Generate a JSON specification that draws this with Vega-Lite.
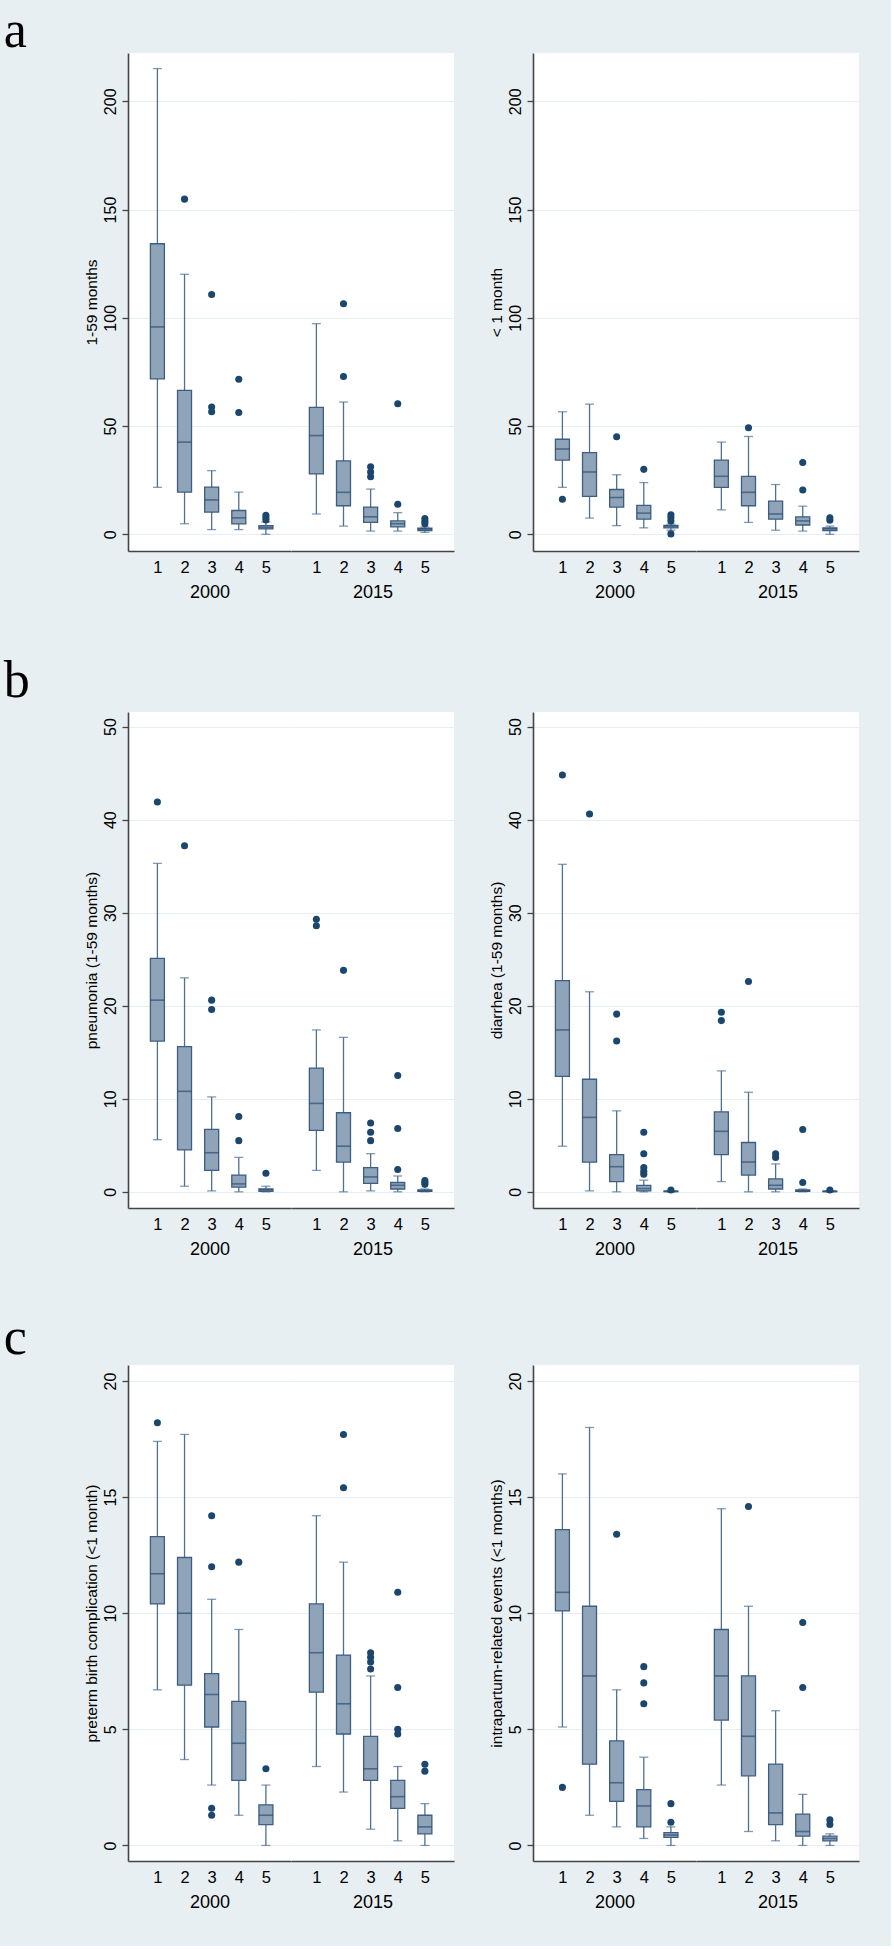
{
"$schema": "https://vega.github.io/schema/vega-lite/v6.json",
"background": "#e8eff2",
"padding": {"left": 3, "top": 5, "right": 32, "bottom": 34},
"datasets": {"d": [
{"p":"aL","yr":2000,"q":1,"lo":21.7,"q1":71.8,"md":95.8,"q3":134.2,"hi":215.1},
{"p":"aL","yr":2000,"q":2,"lo":4.9,"q1":19.5,"md":42.6,"q3":66.5,"hi":120.1},
{"p":"aL","yr":2000,"q":3,"lo":2.2,"q1":10.3,"md":15.9,"q3":21.8,"hi":29.4},
{"p":"aL","yr":2000,"q":4,"lo":2.2,"q1":4.8,"md":7.6,"q3":11.0,"hi":19.5},
{"p":"aL","yr":2000,"q":5,"lo":0.0,"q1":2.5,"md":3.2,"q3":4.0,"hi":5.7},
{"p":"aL","yr":2015,"q":1,"lo":9.4,"q1":27.9,"md":45.6,"q3":58.6,"hi":97.3},
{"p":"aL","yr":2015,"q":2,"lo":3.8,"q1":13.2,"md":19.4,"q3":33.9,"hi":61.1},
{"p":"aL","yr":2015,"q":3,"lo":1.5,"q1":5.5,"md":8.1,"q3":12.6,"hi":20.9},
{"p":"aL","yr":2015,"q":4,"lo":1.5,"q1":3.4,"md":4.9,"q3":6.2,"hi":10.0},
{"p":"aL","yr":2015,"q":5,"lo":0.9,"q1":1.7,"md":2.3,"q3":2.8,"hi":3.4},
{"p":"aL","yr":2000,"q":2,"o":154.8},
{"p":"aL","yr":2000,"q":3,"o":110.8},{"p":"aL","yr":2000,"q":3,"o":58.8},{"p":"aL","yr":2000,"q":3,"o":56.6},
{"p":"aL","yr":2000,"q":4,"o":71.6},{"p":"aL","yr":2000,"q":4,"o":56.3},
{"p":"aL","yr":2000,"q":5,"o":6.6},{"p":"aL","yr":2000,"q":5,"o":7.6},{"p":"aL","yr":2000,"q":5,"o":8.8},
{"p":"aL","yr":2015,"q":2,"o":72.9},{"p":"aL","yr":2015,"q":2,"o":106.5},
{"p":"aL","yr":2015,"q":3,"o":26.6},{"p":"aL","yr":2015,"q":3,"o":28.8},{"p":"aL","yr":2015,"q":3,"o":31.2},
{"p":"aL","yr":2015,"q":4,"o":13.9},{"p":"aL","yr":2015,"q":4,"o":60.3},
{"p":"aL","yr":2015,"q":5,"o":4.9},{"p":"aL","yr":2015,"q":5,"o":6.0},{"p":"aL","yr":2015,"q":5,"o":7.3},

{"p":"aR","yr":2000,"q":1,"lo":21.7,"q1":34.3,"md":39.4,"q3":43.9,"hi":56.6},
{"p":"aR","yr":2000,"q":2,"lo":7.5,"q1":17.5,"md":28.8,"q3":37.7,"hi":60.1},
{"p":"aR","yr":2000,"q":3,"lo":4.0,"q1":12.6,"md":17.0,"q3":20.7,"hi":27.5},
{"p":"aR","yr":2000,"q":4,"lo":3.0,"q1":7.0,"md":9.8,"q3":13.4,"hi":23.9},
{"p":"aR","yr":2000,"q":5,"lo":1.9,"q1":3.0,"md":3.6,"q3":4.1,"hi":4.7},
{"p":"aR","yr":2015,"q":1,"lo":11.3,"q1":21.7,"md":26.8,"q3":34.3,"hi":42.6},
{"p":"aR","yr":2015,"q":2,"lo":5.5,"q1":13.2,"md":19.4,"q3":26.8,"hi":45.2},
{"p":"aR","yr":2015,"q":3,"lo":1.9,"q1":7.0,"md":9.4,"q3":15.3,"hi":23.0},
{"p":"aR","yr":2015,"q":4,"lo":1.5,"q1":4.3,"md":6.2,"q3":8.1,"hi":13.0},
{"p":"aR","yr":2015,"q":5,"lo":0.0,"q1":1.7,"md":2.5,"q3":3.0,"hi":3.8},
{"p":"aR","yr":2000,"q":1,"o":16.2},
{"p":"aR","yr":2000,"q":3,"o":45.1},
{"p":"aR","yr":2000,"q":4,"o":30.0},
{"p":"aR","yr":2000,"q":5,"o":6.2},{"p":"aR","yr":2000,"q":5,"o":7.8},{"p":"aR","yr":2000,"q":5,"o":9.0},{"p":"aR","yr":2000,"q":5,"o":0.2},
{"p":"aR","yr":2015,"q":2,"o":49.2},
{"p":"aR","yr":2015,"q":4,"o":20.5},{"p":"aR","yr":2015,"q":4,"o":33.2},
{"p":"aR","yr":2015,"q":5,"o":6.5},{"p":"aR","yr":2015,"q":5,"o":7.6},

{"p":"bL","yr":2000,"q":1,"lo":5.6,"q1":16.2,"md":20.6,"q3":25.1,"hi":35.3},
{"p":"bL","yr":2000,"q":2,"lo":0.6,"q1":4.5,"md":10.8,"q3":15.6,"hi":23.0},
{"p":"bL","yr":2000,"q":3,"lo":0.1,"q1":2.3,"md":4.2,"q3":6.7,"hi":10.2},
{"p":"bL","yr":2000,"q":4,"lo":0.0,"q1":0.5,"md":0.85,"q3":1.8,"hi":3.7},
{"p":"bL","yr":2000,"q":5,"lo":0.0,"q1":0.05,"md":0.2,"q3":0.3,"hi":0.6},
{"p":"bL","yr":2015,"q":1,"lo":2.3,"q1":6.6,"md":9.5,"q3":13.3,"hi":17.4},
{"p":"bL","yr":2015,"q":2,"lo":0.0,"q1":3.2,"md":4.9,"q3":8.5,"hi":16.6},
{"p":"bL","yr":2015,"q":3,"lo":0.1,"q1":0.9,"md":1.6,"q3":2.6,"hi":4.1},
{"p":"bL","yr":2015,"q":4,"lo":0.0,"q1":0.3,"md":0.7,"q3":1.0,"hi":1.7},
{"p":"bL","yr":2015,"q":5,"lo":0.0,"q1":0.05,"md":0.1,"q3":0.2,"hi":0.3},
{"p":"bL","yr":2000,"q":1,"o":41.9},
{"p":"bL","yr":2000,"q":2,"o":37.2},
{"p":"bL","yr":2000,"q":3,"o":19.6},{"p":"bL","yr":2000,"q":3,"o":20.6},
{"p":"bL","yr":2000,"q":4,"o":5.5},{"p":"bL","yr":2000,"q":4,"o":8.1},
{"p":"bL","yr":2000,"q":5,"o":2.0},
{"p":"bL","yr":2015,"q":1,"o":28.6},{"p":"bL","yr":2015,"q":1,"o":29.3},
{"p":"bL","yr":2015,"q":2,"o":23.8},
{"p":"bL","yr":2015,"q":3,"o":5.5},{"p":"bL","yr":2015,"q":3,"o":6.4},{"p":"bL","yr":2015,"q":3,"o":7.4},
{"p":"bL","yr":2015,"q":4,"o":2.4},{"p":"bL","yr":2015,"q":4,"o":6.8},{"p":"bL","yr":2015,"q":4,"o":12.5},
{"p":"bL","yr":2015,"q":5,"o":0.8},{"p":"bL","yr":2015,"q":5,"o":1.0},{"p":"bL","yr":2015,"q":5,"o":1.2},

{"p":"bR","yr":2000,"q":1,"lo":4.9,"q1":12.4,"md":17.4,"q3":22.7,"hi":35.2},
{"p":"bR","yr":2000,"q":2,"lo":0.1,"q1":3.2,"md":8.0,"q3":12.1,"hi":21.5},
{"p":"bR","yr":2000,"q":3,"lo":0.0,"q1":1.1,"md":2.7,"q3":4.0,"hi":8.7},
{"p":"bR","yr":2000,"q":4,"lo":0.0,"q1":0.1,"md":0.35,"q3":0.7,"hi":1.25},
{"p":"bR","yr":2000,"q":5,"lo":0.0,"q1":0.02,"md":0.05,"q3":0.08,"hi":0.12},
{"p":"bR","yr":2015,"q":1,"lo":1.1,"q1":4.0,"md":6.5,"q3":8.6,"hi":13.0},
{"p":"bR","yr":2015,"q":2,"lo":0.0,"q1":1.8,"md":3.2,"q3":5.3,"hi":10.7},
{"p":"bR","yr":2015,"q":3,"lo":0.0,"q1":0.3,"md":0.7,"q3":1.4,"hi":3.0},
{"p":"bR","yr":2015,"q":4,"lo":0.0,"q1":0.05,"md":0.1,"q3":0.2,"hi":0.3},
{"p":"bR","yr":2015,"q":5,"lo":0.0,"q1":0.02,"md":0.05,"q3":0.08,"hi":0.1},
{"p":"bR","yr":2000,"q":1,"o":44.8},
{"p":"bR","yr":2000,"q":2,"o":40.6},
{"p":"bR","yr":2000,"q":3,"o":16.2},{"p":"bR","yr":2000,"q":3,"o":19.1},
{"p":"bR","yr":2000,"q":4,"o":1.9},{"p":"bR","yr":2000,"q":4,"o":2.2},{"p":"bR","yr":2000,"q":4,"o":2.6},{"p":"bR","yr":2000,"q":4,"o":4.1},{"p":"bR","yr":2000,"q":4,"o":6.4},
{"p":"bR","yr":2000,"q":5,"o":0.2},
{"p":"bR","yr":2015,"q":1,"o":18.4},{"p":"bR","yr":2015,"q":1,"o":19.3},
{"p":"bR","yr":2015,"q":2,"o":22.6},
{"p":"bR","yr":2015,"q":3,"o":3.7},{"p":"bR","yr":2015,"q":3,"o":4.1},
{"p":"bR","yr":2015,"q":4,"o":1.0},{"p":"bR","yr":2015,"q":4,"o":6.7},
{"p":"bR","yr":2015,"q":5,"o":0.2},

{"p":"cL","yr":2000,"q":1,"lo":6.7,"q1":10.4,"md":11.7,"q3":13.3,"hi":17.4},
{"p":"cL","yr":2000,"q":2,"lo":3.7,"q1":6.9,"md":10.0,"q3":12.4,"hi":17.7},
{"p":"cL","yr":2000,"q":3,"lo":2.6,"q1":5.1,"md":6.5,"q3":7.4,"hi":10.6},
{"p":"cL","yr":2000,"q":4,"lo":1.3,"q1":2.8,"md":4.4,"q3":6.2,"hi":9.3},
{"p":"cL","yr":2000,"q":5,"lo":0.0,"q1":0.9,"md":1.3,"q3":1.75,"hi":2.6},
{"p":"cL","yr":2015,"q":1,"lo":3.4,"q1":6.6,"md":8.3,"q3":10.4,"hi":14.2},
{"p":"cL","yr":2015,"q":2,"lo":2.3,"q1":4.8,"md":6.1,"q3":8.2,"hi":12.2},
{"p":"cL","yr":2015,"q":3,"lo":0.7,"q1":2.8,"md":3.3,"q3":4.7,"hi":7.3},
{"p":"cL","yr":2015,"q":4,"lo":0.2,"q1":1.6,"md":2.1,"q3":2.8,"hi":3.4},
{"p":"cL","yr":2015,"q":5,"lo":0.0,"q1":0.5,"md":0.8,"q3":1.3,"hi":1.8},
{"p":"cL","yr":2000,"q":1,"o":18.2},
{"p":"cL","yr":2000,"q":3,"o":1.3},{"p":"cL","yr":2000,"q":3,"o":1.6},{"p":"cL","yr":2000,"q":3,"o":12.0},{"p":"cL","yr":2000,"q":3,"o":14.2},
{"p":"cL","yr":2000,"q":4,"o":12.2},
{"p":"cL","yr":2000,"q":5,"o":3.3},
{"p":"cL","yr":2015,"q":2,"o":15.4},{"p":"cL","yr":2015,"q":2,"o":17.7},
{"p":"cL","yr":2015,"q":3,"o":7.6},{"p":"cL","yr":2015,"q":3,"o":7.9},{"p":"cL","yr":2015,"q":3,"o":8.1},{"p":"cL","yr":2015,"q":3,"o":8.3},
{"p":"cL","yr":2015,"q":4,"o":4.8},{"p":"cL","yr":2015,"q":4,"o":5.0},{"p":"cL","yr":2015,"q":4,"o":6.8},{"p":"cL","yr":2015,"q":4,"o":10.9},
{"p":"cL","yr":2015,"q":5,"o":3.2},{"p":"cL","yr":2015,"q":5,"o":3.5},

{"p":"cR","yr":2000,"q":1,"lo":5.1,"q1":10.1,"md":10.9,"q3":13.6,"hi":16.0},
{"p":"cR","yr":2000,"q":2,"lo":1.3,"q1":3.5,"md":7.3,"q3":10.3,"hi":18.0},
{"p":"cR","yr":2000,"q":3,"lo":0.8,"q1":1.9,"md":2.7,"q3":4.5,"hi":6.7},
{"p":"cR","yr":2000,"q":4,"lo":0.3,"q1":0.8,"md":1.7,"q3":2.4,"hi":3.8},
{"p":"cR","yr":2000,"q":5,"lo":0.0,"q1":0.35,"md":0.45,"q3":0.55,"hi":0.8},
{"p":"cR","yr":2015,"q":1,"lo":2.6,"q1":5.4,"md":7.3,"q3":9.3,"hi":14.5},
{"p":"cR","yr":2015,"q":2,"lo":0.6,"q1":3.0,"md":4.7,"q3":7.3,"hi":10.3},
{"p":"cR","yr":2015,"q":3,"lo":0.2,"q1":0.9,"md":1.4,"q3":3.5,"hi":5.8},
{"p":"cR","yr":2015,"q":4,"lo":0.0,"q1":0.4,"md":0.6,"q3":1.35,"hi":2.2},
{"p":"cR","yr":2015,"q":5,"lo":0.0,"q1":0.2,"md":0.3,"q3":0.4,"hi":0.5},
{"p":"cR","yr":2000,"q":1,"o":2.5},
{"p":"cR","yr":2000,"q":3,"o":13.4},
{"p":"cR","yr":2000,"q":4,"o":6.1},{"p":"cR","yr":2000,"q":4,"o":7.0},{"p":"cR","yr":2000,"q":4,"o":7.7},
{"p":"cR","yr":2000,"q":5,"o":1.0},{"p":"cR","yr":2000,"q":5,"o":1.8},
{"p":"cR","yr":2015,"q":2,"o":14.6},
{"p":"cR","yr":2015,"q":4,"o":6.8},{"p":"cR","yr":2015,"q":4,"o":9.6},
{"p":"cR","yr":2015,"q":5,"o":0.9},{"p":"cR","yr":2015,"q":5,"o":1.1}
]},
"data": {"name": "d"},
"spacing": 52,
"vconcat": [
{"title": {"text": "a", "offset": -5.3, "dx": -81}, "spacing": 35, "hconcat": [
 {"spacing": 0, "hconcat": [
  {"width":163,"height":498,"transform":[{"filter":"datum.p==='aL' && datum.yr===2000"}],
   "encoding":{"x":{"field":"q","type":"quantitative","scale":{"domain":[0.1003,5.7405],"nice":false,"zero":false},"axis":{"values":[1,2,3,4,5],"format":"d","title":"2000"}}},
   "layer":[
    {"transform":[{"filter":"isValid(datum.lo)"}],"mark":{"type":"rule","color":"#4d7094","strokeWidth":1.3},"encoding":{"y":{"field":"lo","type":"quantitative","scale":{"domain":[-7.7,222.3],"nice":false,"zero":false},"axis":{"values":[0,50,100,150,200],"title":"1-59 months","labelAngle":270,"labelAlign":"center","labelBaseline":"alphabetic"}},"y2":{"field":"hi"}}},
    {"transform":[{"filter":"isValid(datum.lo)"}],"mark":{"type":"tick","orient":"horizontal","size":9,"thickness":1.3,"color":"#4d7094"},"encoding":{"y":{"field":"lo","type":"quantitative"}}},
    {"transform":[{"filter":"isValid(datum.lo)"}],"mark":{"type":"tick","orient":"horizontal","size":9,"thickness":1.3,"color":"#4d7094"},"encoding":{"y":{"field":"hi","type":"quantitative"}}},
    {"transform":[{"filter":"isValid(datum.lo)"}],"mark":{"type":"bar","orient":"vertical","size":14,"fill":"#8fa4b9","stroke":"#3c5e82","strokeWidth":1.3},"encoding":{"y":{"field":"q1","type":"quantitative"},"y2":{"field":"q3"}}},
    {"transform":[{"filter":"isValid(datum.lo)"}],"mark":{"type":"tick","orient":"horizontal","size":14,"thickness":1.6,"color":"#2c4f74"},"encoding":{"y":{"field":"md","type":"quantitative"}}},
    {"transform":[{"filter":"isValid(datum.o)"}],"mark":{"type":"point","filled":true,"shape":"circle","size":50,"color":"#1b466d","opacity":1},"encoding":{"y":{"field":"o","type":"quantitative"}}}
   ]},
  {"width":163,"height":498,"transform":[{"filter":"datum.p==='aL' && datum.yr===2015"}],
   "encoding":{"x":{"field":"q","type":"quantitative","scale":{"domain":[0.2491,5.8893],"nice":false,"zero":false},"axis":{"values":[1,2,3,4,5],"format":"d","title":"2015"}}},
   "layer":[
    {"transform":[{"filter":"isValid(datum.lo)"}],"mark":{"type":"rule","color":"#4d7094","strokeWidth":1.3},"encoding":{"y":{"field":"lo","type":"quantitative","scale":{"domain":[-7.7,222.3],"nice":false,"zero":false},"axis":{"values":[0,50,100,150,200],"title":null,"labels":false,"ticks":false,"domain":false}},"y2":{"field":"hi"}}},
    {"transform":[{"filter":"isValid(datum.lo)"}],"mark":{"type":"tick","orient":"horizontal","size":9,"thickness":1.3,"color":"#4d7094"},"encoding":{"y":{"field":"lo","type":"quantitative"}}},
    {"transform":[{"filter":"isValid(datum.lo)"}],"mark":{"type":"tick","orient":"horizontal","size":9,"thickness":1.3,"color":"#4d7094"},"encoding":{"y":{"field":"hi","type":"quantitative"}}},
    {"transform":[{"filter":"isValid(datum.lo)"}],"mark":{"type":"bar","orient":"vertical","size":14,"fill":"#8fa4b9","stroke":"#3c5e82","strokeWidth":1.3},"encoding":{"y":{"field":"q1","type":"quantitative"},"y2":{"field":"q3"}}},
    {"transform":[{"filter":"isValid(datum.lo)"}],"mark":{"type":"tick","orient":"horizontal","size":14,"thickness":1.6,"color":"#2c4f74"},"encoding":{"y":{"field":"md","type":"quantitative"}}},
    {"transform":[{"filter":"isValid(datum.o)"}],"mark":{"type":"point","filled":true,"shape":"circle","size":50,"color":"#1b466d","opacity":1},"encoding":{"y":{"field":"o","type":"quantitative"}}}
   ]}
 ]},
 {"spacing": 0, "hconcat": [
  {"width":163,"height":498,"transform":[{"filter":"datum.p==='aR' && datum.yr===2000"}],
   "encoding":{"x":{"field":"q","type":"quantitative","scale":{"domain":[0.1003,5.7405],"nice":false,"zero":false},"axis":{"values":[1,2,3,4,5],"format":"d","title":"2000"}}},
   "layer":[
    {"transform":[{"filter":"isValid(datum.lo)"}],"mark":{"type":"rule","color":"#4d7094","strokeWidth":1.3},"encoding":{"y":{"field":"lo","type":"quantitative","scale":{"domain":[-7.7,222.3],"nice":false,"zero":false},"axis":{"values":[0,50,100,150,200],"title":"< 1 month","labelAngle":270,"labelAlign":"center","labelBaseline":"alphabetic"}},"y2":{"field":"hi"}}},
    {"transform":[{"filter":"isValid(datum.lo)"}],"mark":{"type":"tick","orient":"horizontal","size":9,"thickness":1.3,"color":"#4d7094"},"encoding":{"y":{"field":"lo","type":"quantitative"}}},
    {"transform":[{"filter":"isValid(datum.lo)"}],"mark":{"type":"tick","orient":"horizontal","size":9,"thickness":1.3,"color":"#4d7094"},"encoding":{"y":{"field":"hi","type":"quantitative"}}},
    {"transform":[{"filter":"isValid(datum.lo)"}],"mark":{"type":"bar","orient":"vertical","size":14,"fill":"#8fa4b9","stroke":"#3c5e82","strokeWidth":1.3},"encoding":{"y":{"field":"q1","type":"quantitative"},"y2":{"field":"q3"}}},
    {"transform":[{"filter":"isValid(datum.lo)"}],"mark":{"type":"tick","orient":"horizontal","size":14,"thickness":1.6,"color":"#2c4f74"},"encoding":{"y":{"field":"md","type":"quantitative"}}},
    {"transform":[{"filter":"isValid(datum.o)"}],"mark":{"type":"point","filled":true,"shape":"circle","size":50,"color":"#1b466d","opacity":1},"encoding":{"y":{"field":"o","type":"quantitative"}}}
   ]},
  {"width":163,"height":498,"transform":[{"filter":"datum.p==='aR' && datum.yr===2015"}],
   "encoding":{"x":{"field":"q","type":"quantitative","scale":{"domain":[0.2491,5.8893],"nice":false,"zero":false},"axis":{"values":[1,2,3,4,5],"format":"d","title":"2015"}}},
   "layer":[
    {"transform":[{"filter":"isValid(datum.lo)"}],"mark":{"type":"rule","color":"#4d7094","strokeWidth":1.3},"encoding":{"y":{"field":"lo","type":"quantitative","scale":{"domain":[-7.7,222.3],"nice":false,"zero":false},"axis":{"values":[0,50,100,150,200],"title":null,"labels":false,"ticks":false,"domain":false}},"y2":{"field":"hi"}}},
    {"transform":[{"filter":"isValid(datum.lo)"}],"mark":{"type":"tick","orient":"horizontal","size":9,"thickness":1.3,"color":"#4d7094"},"encoding":{"y":{"field":"lo","type":"quantitative"}}},
    {"transform":[{"filter":"isValid(datum.lo)"}],"mark":{"type":"tick","orient":"horizontal","size":9,"thickness":1.3,"color":"#4d7094"},"encoding":{"y":{"field":"hi","type":"quantitative"}}},
    {"transform":[{"filter":"isValid(datum.lo)"}],"mark":{"type":"bar","orient":"vertical","size":14,"fill":"#8fa4b9","stroke":"#3c5e82","strokeWidth":1.3},"encoding":{"y":{"field":"q1","type":"quantitative"},"y2":{"field":"q3"}}},
    {"transform":[{"filter":"isValid(datum.lo)"}],"mark":{"type":"tick","orient":"horizontal","size":14,"thickness":1.6,"color":"#2c4f74"},"encoding":{"y":{"field":"md","type":"quantitative"}}},
    {"transform":[{"filter":"isValid(datum.o)"}],"mark":{"type":"point","filled":true,"shape":"circle","size":50,"color":"#1b466d","opacity":1},"encoding":{"y":{"field":"o","type":"quantitative"}}}
   ]}
 ]}
]},
{"title": {"text": "b", "offset": 4.1, "dx": -81}, "spacing": 35, "hconcat": [
 {"spacing": 0, "hconcat": [
  {"width":163,"height":496,"transform":[{"filter":"datum.p==='bL' && datum.yr===2000"}],
   "encoding":{"x":{"field":"q","type":"quantitative","scale":{"domain":[0.1003,5.7405],"nice":false,"zero":false},"axis":{"values":[1,2,3,4,5],"format":"d","title":"2000"}}},
   "layer":[
    {"transform":[{"filter":"isValid(datum.lo)"}],"mark":{"type":"rule","color":"#4d7094","strokeWidth":1.3},"encoding":{"y":{"field":"lo","type":"quantitative","scale":{"domain":[-1.74,51.57],"nice":false,"zero":false},"axis":{"values":[0,10,20,30,40,50],"title":"pneumonia (1-59 months)","labelAngle":270,"labelAlign":"center","labelBaseline":"alphabetic"}},"y2":{"field":"hi"}}},
    {"transform":[{"filter":"isValid(datum.lo)"}],"mark":{"type":"tick","orient":"horizontal","size":9,"thickness":1.3,"color":"#4d7094"},"encoding":{"y":{"field":"lo","type":"quantitative"}}},
    {"transform":[{"filter":"isValid(datum.lo)"}],"mark":{"type":"tick","orient":"horizontal","size":9,"thickness":1.3,"color":"#4d7094"},"encoding":{"y":{"field":"hi","type":"quantitative"}}},
    {"transform":[{"filter":"isValid(datum.lo)"}],"mark":{"type":"bar","orient":"vertical","size":14,"fill":"#8fa4b9","stroke":"#3c5e82","strokeWidth":1.3},"encoding":{"y":{"field":"q1","type":"quantitative"},"y2":{"field":"q3"}}},
    {"transform":[{"filter":"isValid(datum.lo)"}],"mark":{"type":"tick","orient":"horizontal","size":14,"thickness":1.6,"color":"#2c4f74"},"encoding":{"y":{"field":"md","type":"quantitative"}}},
    {"transform":[{"filter":"isValid(datum.o)"}],"mark":{"type":"point","filled":true,"shape":"circle","size":50,"color":"#1b466d","opacity":1},"encoding":{"y":{"field":"o","type":"quantitative"}}}
   ]},
  {"width":163,"height":496,"transform":[{"filter":"datum.p==='bL' && datum.yr===2015"}],
   "encoding":{"x":{"field":"q","type":"quantitative","scale":{"domain":[0.2491,5.8893],"nice":false,"zero":false},"axis":{"values":[1,2,3,4,5],"format":"d","title":"2015"}}},
   "layer":[
    {"transform":[{"filter":"isValid(datum.lo)"}],"mark":{"type":"rule","color":"#4d7094","strokeWidth":1.3},"encoding":{"y":{"field":"lo","type":"quantitative","scale":{"domain":[-1.74,51.57],"nice":false,"zero":false},"axis":{"values":[0,10,20,30,40,50],"title":null,"labels":false,"ticks":false,"domain":false}},"y2":{"field":"hi"}}},
    {"transform":[{"filter":"isValid(datum.lo)"}],"mark":{"type":"tick","orient":"horizontal","size":9,"thickness":1.3,"color":"#4d7094"},"encoding":{"y":{"field":"lo","type":"quantitative"}}},
    {"transform":[{"filter":"isValid(datum.lo)"}],"mark":{"type":"tick","orient":"horizontal","size":9,"thickness":1.3,"color":"#4d7094"},"encoding":{"y":{"field":"hi","type":"quantitative"}}},
    {"transform":[{"filter":"isValid(datum.lo)"}],"mark":{"type":"bar","orient":"vertical","size":14,"fill":"#8fa4b9","stroke":"#3c5e82","strokeWidth":1.3},"encoding":{"y":{"field":"q1","type":"quantitative"},"y2":{"field":"q3"}}},
    {"transform":[{"filter":"isValid(datum.lo)"}],"mark":{"type":"tick","orient":"horizontal","size":14,"thickness":1.6,"color":"#2c4f74"},"encoding":{"y":{"field":"md","type":"quantitative"}}},
    {"transform":[{"filter":"isValid(datum.o)"}],"mark":{"type":"point","filled":true,"shape":"circle","size":50,"color":"#1b466d","opacity":1},"encoding":{"y":{"field":"o","type":"quantitative"}}}
   ]}
 ]},
 {"spacing": 0, "hconcat": [
  {"width":163,"height":496,"transform":[{"filter":"datum.p==='bR' && datum.yr===2000"}],
   "encoding":{"x":{"field":"q","type":"quantitative","scale":{"domain":[0.1003,5.7405],"nice":false,"zero":false},"axis":{"values":[1,2,3,4,5],"format":"d","title":"2000"}}},
   "layer":[
    {"transform":[{"filter":"isValid(datum.lo)"}],"mark":{"type":"rule","color":"#4d7094","strokeWidth":1.3},"encoding":{"y":{"field":"lo","type":"quantitative","scale":{"domain":[-1.74,51.57],"nice":false,"zero":false},"axis":{"values":[0,10,20,30,40,50],"title":"diarrhea (1-59 months)","labelAngle":270,"labelAlign":"center","labelBaseline":"alphabetic"}},"y2":{"field":"hi"}}},
    {"transform":[{"filter":"isValid(datum.lo)"}],"mark":{"type":"tick","orient":"horizontal","size":9,"thickness":1.3,"color":"#4d7094"},"encoding":{"y":{"field":"lo","type":"quantitative"}}},
    {"transform":[{"filter":"isValid(datum.lo)"}],"mark":{"type":"tick","orient":"horizontal","size":9,"thickness":1.3,"color":"#4d7094"},"encoding":{"y":{"field":"hi","type":"quantitative"}}},
    {"transform":[{"filter":"isValid(datum.lo)"}],"mark":{"type":"bar","orient":"vertical","size":14,"fill":"#8fa4b9","stroke":"#3c5e82","strokeWidth":1.3},"encoding":{"y":{"field":"q1","type":"quantitative"},"y2":{"field":"q3"}}},
    {"transform":[{"filter":"isValid(datum.lo)"}],"mark":{"type":"tick","orient":"horizontal","size":14,"thickness":1.6,"color":"#2c4f74"},"encoding":{"y":{"field":"md","type":"quantitative"}}},
    {"transform":[{"filter":"isValid(datum.o)"}],"mark":{"type":"point","filled":true,"shape":"circle","size":50,"color":"#1b466d","opacity":1},"encoding":{"y":{"field":"o","type":"quantitative"}}}
   ]},
  {"width":163,"height":496,"transform":[{"filter":"datum.p==='bR' && datum.yr===2015"}],
   "encoding":{"x":{"field":"q","type":"quantitative","scale":{"domain":[0.2491,5.8893],"nice":false,"zero":false},"axis":{"values":[1,2,3,4,5],"format":"d","title":"2015"}}},
   "layer":[
    {"transform":[{"filter":"isValid(datum.lo)"}],"mark":{"type":"rule","color":"#4d7094","strokeWidth":1.3},"encoding":{"y":{"field":"lo","type":"quantitative","scale":{"domain":[-1.74,51.57],"nice":false,"zero":false},"axis":{"values":[0,10,20,30,40,50],"title":null,"labels":false,"ticks":false,"domain":false}},"y2":{"field":"hi"}}},
    {"transform":[{"filter":"isValid(datum.lo)"}],"mark":{"type":"tick","orient":"horizontal","size":9,"thickness":1.3,"color":"#4d7094"},"encoding":{"y":{"field":"lo","type":"quantitative"}}},
    {"transform":[{"filter":"isValid(datum.lo)"}],"mark":{"type":"tick","orient":"horizontal","size":9,"thickness":1.3,"color":"#4d7094"},"encoding":{"y":{"field":"hi","type":"quantitative"}}},
    {"transform":[{"filter":"isValid(datum.lo)"}],"mark":{"type":"bar","orient":"vertical","size":14,"fill":"#8fa4b9","stroke":"#3c5e82","strokeWidth":1.3},"encoding":{"y":{"field":"q1","type":"quantitative"},"y2":{"field":"q3"}}},
    {"transform":[{"filter":"isValid(datum.lo)"}],"mark":{"type":"tick","orient":"horizontal","size":14,"thickness":1.6,"color":"#2c4f74"},"encoding":{"y":{"field":"md","type":"quantitative"}}},
    {"transform":[{"filter":"isValid(datum.o)"}],"mark":{"type":"point","filled":true,"shape":"circle","size":50,"color":"#1b466d","opacity":1},"encoding":{"y":{"field":"o","type":"quantitative"}}}
   ]}
 ]}
]},
{"title": {"text": "c", "offset": 0.1, "dx": -81}, "spacing": 35, "hconcat": [
 {"spacing": 0, "hconcat": [
  {"width":163,"height":496,"transform":[{"filter":"datum.p==='cL' && datum.yr===2000"}],
   "encoding":{"x":{"field":"q","type":"quantitative","scale":{"domain":[0.1003,5.7405],"nice":false,"zero":false},"axis":{"values":[1,2,3,4,5],"format":"d","title":"2000"}}},
   "layer":[
    {"transform":[{"filter":"isValid(datum.lo)"}],"mark":{"type":"rule","color":"#4d7094","strokeWidth":1.3},"encoding":{"y":{"field":"lo","type":"quantitative","scale":{"domain":[-0.67,20.69],"nice":false,"zero":false},"axis":{"values":[0,5,10,15,20],"title":"preterm birth complication (<1 month)","labelAngle":270,"labelAlign":"center","labelBaseline":"alphabetic"}},"y2":{"field":"hi"}}},
    {"transform":[{"filter":"isValid(datum.lo)"}],"mark":{"type":"tick","orient":"horizontal","size":9,"thickness":1.3,"color":"#4d7094"},"encoding":{"y":{"field":"lo","type":"quantitative"}}},
    {"transform":[{"filter":"isValid(datum.lo)"}],"mark":{"type":"tick","orient":"horizontal","size":9,"thickness":1.3,"color":"#4d7094"},"encoding":{"y":{"field":"hi","type":"quantitative"}}},
    {"transform":[{"filter":"isValid(datum.lo)"}],"mark":{"type":"bar","orient":"vertical","size":14,"fill":"#8fa4b9","stroke":"#3c5e82","strokeWidth":1.3},"encoding":{"y":{"field":"q1","type":"quantitative"},"y2":{"field":"q3"}}},
    {"transform":[{"filter":"isValid(datum.lo)"}],"mark":{"type":"tick","orient":"horizontal","size":14,"thickness":1.6,"color":"#2c4f74"},"encoding":{"y":{"field":"md","type":"quantitative"}}},
    {"transform":[{"filter":"isValid(datum.o)"}],"mark":{"type":"point","filled":true,"shape":"circle","size":50,"color":"#1b466d","opacity":1},"encoding":{"y":{"field":"o","type":"quantitative"}}}
   ]},
  {"width":163,"height":496,"transform":[{"filter":"datum.p==='cL' && datum.yr===2015"}],
   "encoding":{"x":{"field":"q","type":"quantitative","scale":{"domain":[0.2491,5.8893],"nice":false,"zero":false},"axis":{"values":[1,2,3,4,5],"format":"d","title":"2015"}}},
   "layer":[
    {"transform":[{"filter":"isValid(datum.lo)"}],"mark":{"type":"rule","color":"#4d7094","strokeWidth":1.3},"encoding":{"y":{"field":"lo","type":"quantitative","scale":{"domain":[-0.67,20.69],"nice":false,"zero":false},"axis":{"values":[0,5,10,15,20],"title":null,"labels":false,"ticks":false,"domain":false}},"y2":{"field":"hi"}}},
    {"transform":[{"filter":"isValid(datum.lo)"}],"mark":{"type":"tick","orient":"horizontal","size":9,"thickness":1.3,"color":"#4d7094"},"encoding":{"y":{"field":"lo","type":"quantitative"}}},
    {"transform":[{"filter":"isValid(datum.lo)"}],"mark":{"type":"tick","orient":"horizontal","size":9,"thickness":1.3,"color":"#4d7094"},"encoding":{"y":{"field":"hi","type":"quantitative"}}},
    {"transform":[{"filter":"isValid(datum.lo)"}],"mark":{"type":"bar","orient":"vertical","size":14,"fill":"#8fa4b9","stroke":"#3c5e82","strokeWidth":1.3},"encoding":{"y":{"field":"q1","type":"quantitative"},"y2":{"field":"q3"}}},
    {"transform":[{"filter":"isValid(datum.lo)"}],"mark":{"type":"tick","orient":"horizontal","size":14,"thickness":1.6,"color":"#2c4f74"},"encoding":{"y":{"field":"md","type":"quantitative"}}},
    {"transform":[{"filter":"isValid(datum.o)"}],"mark":{"type":"point","filled":true,"shape":"circle","size":50,"color":"#1b466d","opacity":1},"encoding":{"y":{"field":"o","type":"quantitative"}}}
   ]}
 ]},
 {"spacing": 0, "hconcat": [
  {"width":163,"height":496,"transform":[{"filter":"datum.p==='cR' && datum.yr===2000"}],
   "encoding":{"x":{"field":"q","type":"quantitative","scale":{"domain":[0.1003,5.7405],"nice":false,"zero":false},"axis":{"values":[1,2,3,4,5],"format":"d","title":"2000"}}},
   "layer":[
    {"transform":[{"filter":"isValid(datum.lo)"}],"mark":{"type":"rule","color":"#4d7094","strokeWidth":1.3},"encoding":{"y":{"field":"lo","type":"quantitative","scale":{"domain":[-0.67,20.69],"nice":false,"zero":false},"axis":{"values":[0,5,10,15,20],"title":"intrapartum-related events (<1 months)","labelAngle":270,"labelAlign":"center","labelBaseline":"alphabetic"}},"y2":{"field":"hi"}}},
    {"transform":[{"filter":"isValid(datum.lo)"}],"mark":{"type":"tick","orient":"horizontal","size":9,"thickness":1.3,"color":"#4d7094"},"encoding":{"y":{"field":"lo","type":"quantitative"}}},
    {"transform":[{"filter":"isValid(datum.lo)"}],"mark":{"type":"tick","orient":"horizontal","size":9,"thickness":1.3,"color":"#4d7094"},"encoding":{"y":{"field":"hi","type":"quantitative"}}},
    {"transform":[{"filter":"isValid(datum.lo)"}],"mark":{"type":"bar","orient":"vertical","size":14,"fill":"#8fa4b9","stroke":"#3c5e82","strokeWidth":1.3},"encoding":{"y":{"field":"q1","type":"quantitative"},"y2":{"field":"q3"}}},
    {"transform":[{"filter":"isValid(datum.lo)"}],"mark":{"type":"tick","orient":"horizontal","size":14,"thickness":1.6,"color":"#2c4f74"},"encoding":{"y":{"field":"md","type":"quantitative"}}},
    {"transform":[{"filter":"isValid(datum.o)"}],"mark":{"type":"point","filled":true,"shape":"circle","size":50,"color":"#1b466d","opacity":1},"encoding":{"y":{"field":"o","type":"quantitative"}}}
   ]},
  {"width":163,"height":496,"transform":[{"filter":"datum.p==='cR' && datum.yr===2015"}],
   "encoding":{"x":{"field":"q","type":"quantitative","scale":{"domain":[0.2491,5.8893],"nice":false,"zero":false},"axis":{"values":[1,2,3,4,5],"format":"d","title":"2015"}}},
   "layer":[
    {"transform":[{"filter":"isValid(datum.lo)"}],"mark":{"type":"rule","color":"#4d7094","strokeWidth":1.3},"encoding":{"y":{"field":"lo","type":"quantitative","scale":{"domain":[-0.67,20.69],"nice":false,"zero":false},"axis":{"values":[0,5,10,15,20],"title":null,"labels":false,"ticks":false,"domain":false}},"y2":{"field":"hi"}}},
    {"transform":[{"filter":"isValid(datum.lo)"}],"mark":{"type":"tick","orient":"horizontal","size":9,"thickness":1.3,"color":"#4d7094"},"encoding":{"y":{"field":"lo","type":"quantitative"}}},
    {"transform":[{"filter":"isValid(datum.lo)"}],"mark":{"type":"tick","orient":"horizontal","size":9,"thickness":1.3,"color":"#4d7094"},"encoding":{"y":{"field":"hi","type":"quantitative"}}},
    {"transform":[{"filter":"isValid(datum.lo)"}],"mark":{"type":"bar","orient":"vertical","size":14,"fill":"#8fa4b9","stroke":"#3c5e82","strokeWidth":1.3},"encoding":{"y":{"field":"q1","type":"quantitative"},"y2":{"field":"q3"}}},
    {"transform":[{"filter":"isValid(datum.lo)"}],"mark":{"type":"tick","orient":"horizontal","size":14,"thickness":1.6,"color":"#2c4f74"},"encoding":{"y":{"field":"md","type":"quantitative"}}},
    {"transform":[{"filter":"isValid(datum.o)"}],"mark":{"type":"point","filled":true,"shape":"circle","size":50,"color":"#1b466d","opacity":1},"encoding":{"y":{"field":"o","type":"quantitative"}}}
   ]}
 ]}
]}
],
"config": {
 "view": {"fill": "#ffffff", "stroke": null},
 "font": "Liberation Sans",
 "axis": {"labelFont": "Liberation Sans", "titleFont": "Liberation Sans", "labelColor": "#000000", "titleColor": "#000000", "titleFontWeight": "normal", "domainColor": "#444444", "tickColor": "#444444"},
 "axisX": {"grid": false, "ticks": false, "tickSize": 0, "domainWidth": 1.6, "labelFontSize": 16.5, "labelPadding": 8, "labelAngle": 0, "titleFontSize": 18, "titlePadding": 8},
 "axisY": {"grid": true, "gridColor": "#e6eef1", "gridWidth": 1, "domainWidth": 1.6, "tickSize": 6, "tickWidth": 1.3, "labelFontSize": 16, "labelAngle": 270, "labelAlign": "center", "labelBaseline": "alphabetic", "labelPadding": 7, "titleFontSize": 15.5, "titlePadding": 2.2},
 "title": {"font": "Liberation Serif", "fontSize": 52, "fontWeight": "normal", "anchor": "start", "frame": "bounds", "color": "#000000", "baseline": "alphabetic"}
}
}
